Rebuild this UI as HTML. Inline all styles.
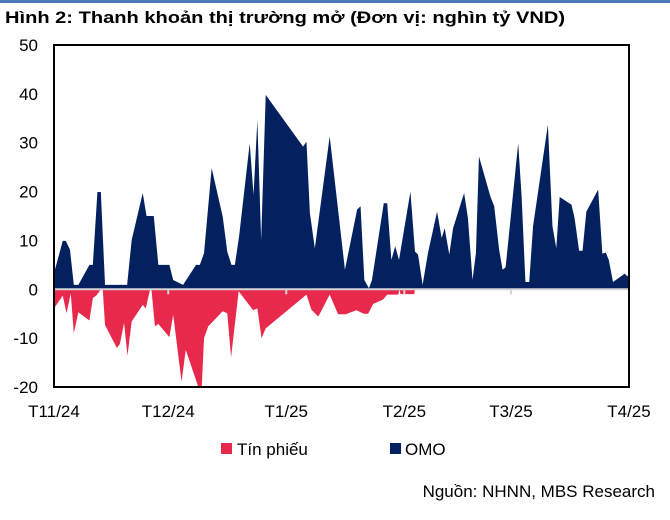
<!DOCTYPE html>
<html><head><meta charset="utf-8"><style>
body{margin:0;background:#fff;width:670px;height:515px;overflow:hidden;font-family:"Liberation Sans",Arial,sans-serif}
</style></head><body>
<svg id="chart" width="670" height="515" xmlns="http://www.w3.org/2000/svg" font-family="Liberation Sans, Arial, sans-serif">
<rect x="0" y="0" width="670" height="3" fill="#4a78b8"/>
<text x="5" y="23" font-size="17" font-weight="bold" textLength="560" lengthAdjust="spacingAndGlyphs" fill="#000">Hình 2: Thanh khoản thị trường mở (Đơn vị: nghìn tỷ VND)</text>
<g id="plot"></g>
<g>
<rect x="221" y="443" width="11" height="11" fill="#e8294c"/>
<text x="237" y="455" font-size="17" fill="#000">Tín phiếu</text>
<rect x="390" y="443" width="11" height="11" fill="#03215f"/>
<text x="405" y="455" font-size="17" fill="#000">OMO</text>
</g>
<text x="655" y="497" font-size="17" text-anchor="end" fill="#000">Nguồn: NHNN, MBS Research</text>
</svg>
<script>
const yTicks = [50, 40, 30, 20, 10, 0, -10, -20];
const monthLabels = ["T11/24", "T12/24", "T1/25", "T2/25", "T3/25", "T4/25"];
const monthDays = [0, 30, 61, 92, 120, 151];
const omoDays = [0,2.3,3.1,4.2,5.2,6.4,9.3,10.2,11.4,12.3,13.4,19.2,20.4,23.3,24.3,26.2,27.4,30.3,31.3,33.9,37.3,38.3,39.4,41.4,44.3,45.5,46.6,47.5,48.6,51.4,52.4,53.4,54.4,55.6,65.4,66.3,67.2,68.5,72.4,76.4,79.6,80.5,81.5,82.7,83.5,86.6,87.5,88.6,89.6,90.6,93.6,94.8,95.6,96.8,98.2,100.6,101.8,102.6,103.8,104.8,107.7,108.7,109.9,110.8,111.6,114.6,115.6,116.9,117.8,118.6,121.9,122.8,123.8,124.8,125.8,129.7,130.9,131.9,132.8,135.9,136.7,137.9,138.8,139.8,142.9,144,144.9,145.7,146.8,149.9,150.6,151];
const omoValues = [3.3,9.9,9.9,8.1,0.9,0.9,5,5,19.9,19.9,0.9,0.9,10.1,19.7,15,15,5,5,1.9,0.9,5,5,7.4,24.8,14.9,7.7,5,5,10.8,29.9,19.3,34.6,10.1,39.8,29.2,30.2,15.6,8.4,31.3,4,16.3,17,1.9,0.2,1.9,17.6,17.6,6,8.8,6,20,7.7,7.1,0.9,7.4,15.9,10.5,12.5,7.1,12.5,19.7,14.6,1.9,7.4,27.2,19,17,8.1,4,4.5,29.9,19,1.5,1.5,12.9,33.7,12.9,8.4,18.9,17.3,14.6,7.9,7.9,15.9,20.4,7.3,7.5,6,1.5,3.2,2.6,3.8];
const billDays = [0,2.3,3.3,4.4,5.2,6.4,9.3,10.2,11.2,12.3,12.8,13.4,16.5,17.3,18.4,19.3,20.4,23.3,24.1,25.2,25.6,26.5,27.4,30.3,31.3,33.5,34.6,37.9,38.8,39.4,40.5,44.3,45.5,46.5,48.5,52.3,53.4,54.5,55.6,66.3,67.6,69.4,72.4,74.6,76.6,79.4,81.4,82.5,83.8,86.4,87.5,90.4,90.7,91,94.6,94.8,151];
const billValues = [-3.9,-1.3,-4.9,-0.8,-9,-4.7,-6.4,-1.8,-1.2,0,0,-7.3,-12,-11.2,-6.9,-13.6,-6.6,-3.2,-3.9,-0.1,-0.1,-7.6,-7.1,-9.8,-5.2,-18.9,-12.4,-20,-20,-10,-7.6,-4.5,-4.9,-13.9,-0.4,-4.3,-3.9,-10,-8,-1.1,-4.2,-5.6,-1.1,-5.1,-5.1,-4.3,-5,-5,-3,-2.1,-1.1,-1.1,0,-1,-1,0,0];

const L=54,R=629,T=45,B=387,DMAX=151,VMIN=-20,VMAX=50;
const sx=d=>L+(d/DMAX)*(R-L);
const sy=v=>B-(v-VMIN)/(VMAX-VMIN)*(B-T);
const NS="http://www.w3.org/2000/svg";
const plot=document.getElementById('plot');
function mk(tag,attrs){const e=document.createElementNS(NS,tag);for(const k in attrs)e.setAttribute(k,attrs[k]);plot.appendChild(e);return e;}
function area(days,vals,color,name){
  let d="M"+sx(days[0])+","+sy(0);
  for(let i=0;i<days.length;i++)d+=" L"+sx(days[i])+","+sy(vals[i]);
  d+=" L"+sx(days[days.length-1])+","+sy(0)+" Z";
  const p=mk('path',{d:d,fill:color});
  
  
}
area(billDays,billValues,"#e8294c","tin-phieu-area");
area(omoDays,omoValues,"#03215f","omo-area");
const zl=mk('line',{x1:L,x2:R,y1:sy(0),y2:sy(0),stroke:"#d4d4d4","stroke-width":2});


monthDays.forEach((d,i)=>{
  const t=mk('line',{x1:sx(d),x2:sx(d),y1:sy(0),y2:sy(0)+5,stroke:"#d4d4d4","stroke-width":2});
  
  
  const tx=mk('text',{x:sx(d),y:417,"font-size":17,"text-anchor":"middle",fill:"#000"});
  tx.textContent=monthLabels[i];
  
  
});
yTicks.forEach(v=>{
  const tx=mk('text',{x:38,y:sy(v)+6,"font-size":17,"text-anchor":"end",fill:"#000"});
  tx.textContent=v;
  
  
});
const box=mk('rect',{x:L,y:T,width:R-L,height:B-T,fill:"none",stroke:"#000","stroke-width":2});


</script>
</body></html>
